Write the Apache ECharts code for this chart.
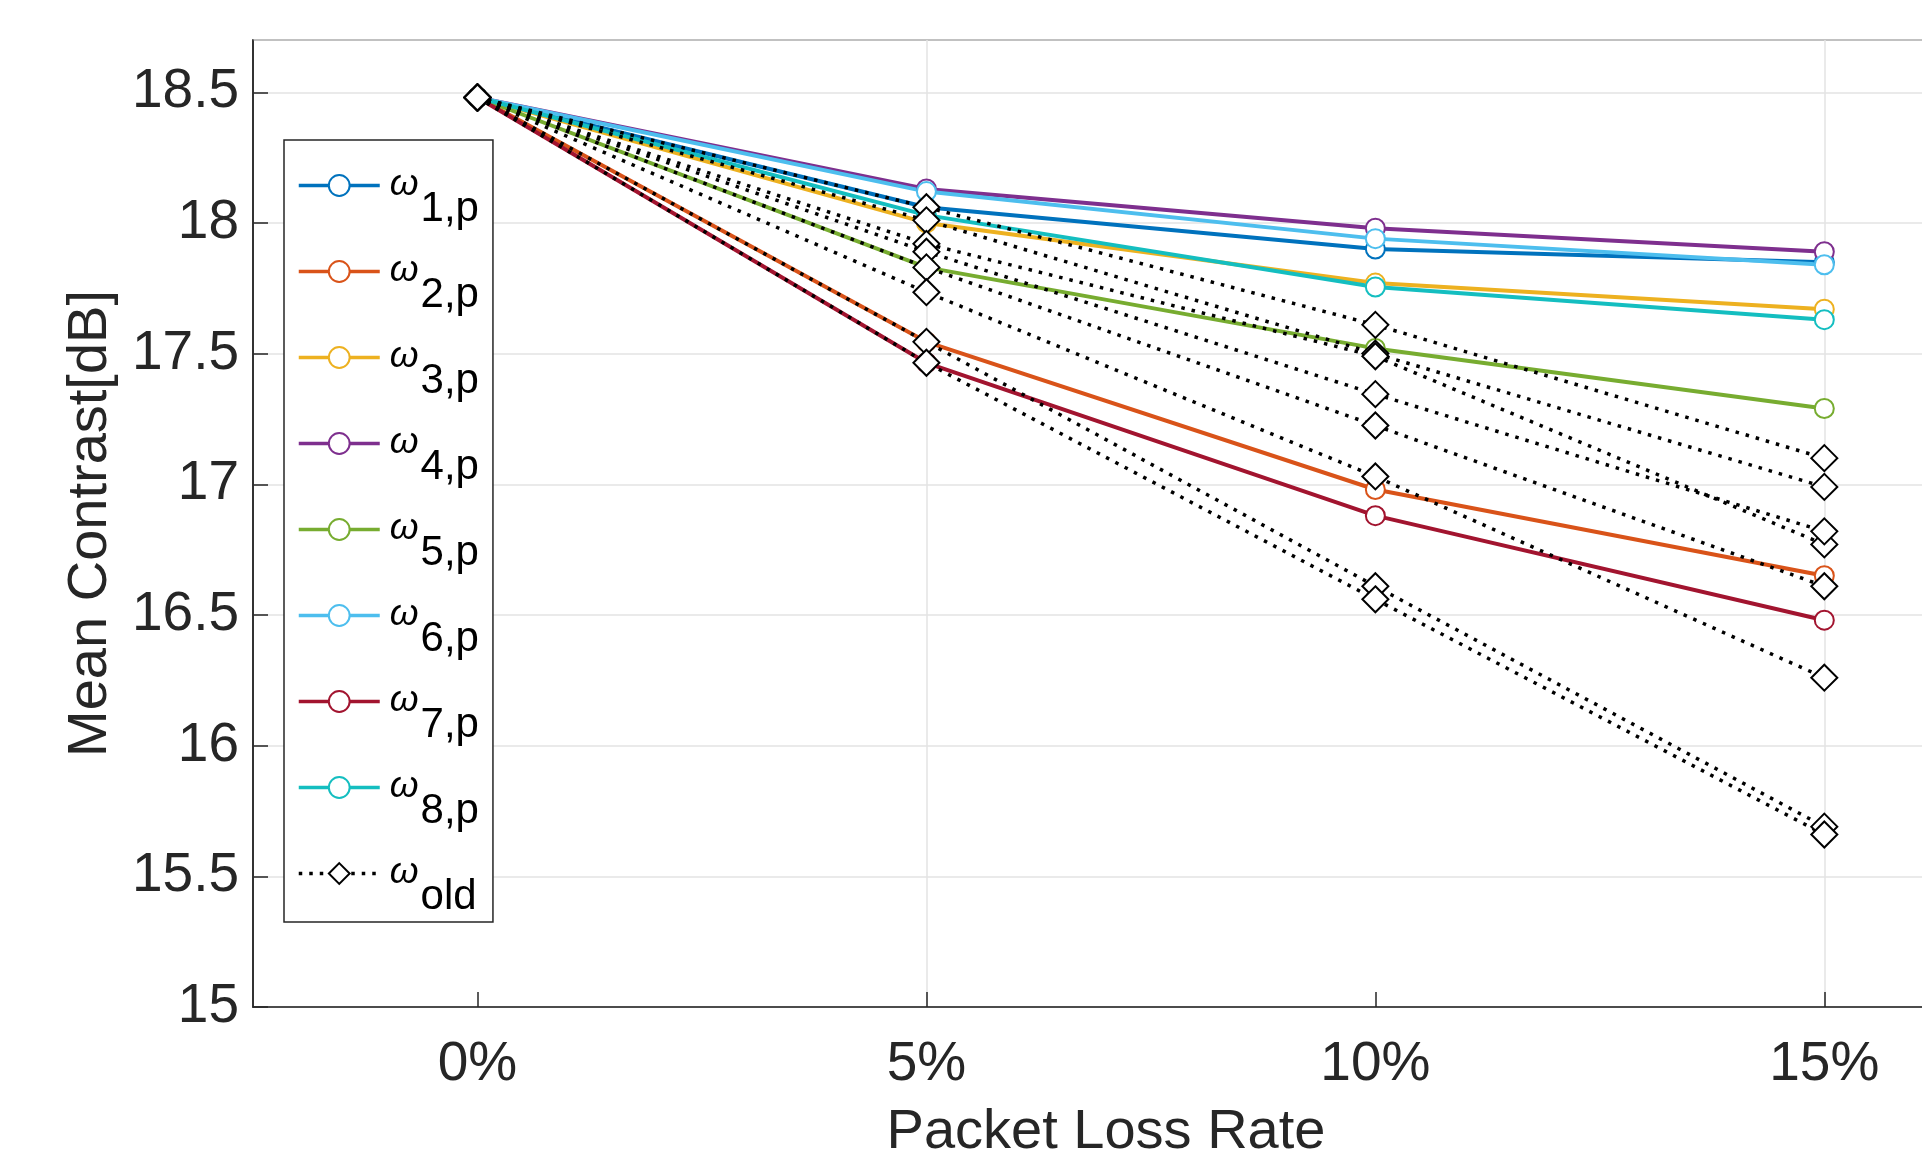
<!DOCTYPE html>
<html>
<head>
<meta charset="utf-8">
<title>Mean Contrast vs Packet Loss Rate</title>
<script src="https://cdn.jsdelivr.net/npm/echarts@6.0.0/dist/echarts.min.js"></script>
<style>
  html, body { margin: 0; padding: 0; background: #fff; }
  #chart { width: 1922px; height: 1151px; }
</style>
</head>
<body>
<div id="chart"></div>
<script>
// packet loss rate (%)
const rates = [0, 5, 10, 15];

// proposed weights
const w1p = [18.48, 18.06, 17.90, 17.85];
const w2p = [18.48, 17.545, 16.98, 16.65];
const w3p = [18.48, 18.00, 17.77, 17.67];
const w4p = [18.48, 18.13, 17.98, 17.89];
const w5p = [18.48, 17.83, 17.52, 17.29];
const w6p = [18.48, 18.12, 17.94, 17.84];
const w7p = [18.48, 17.465, 16.88, 16.48];
const w8p = [18.48, 18.03, 17.755, 17.63];

// old weights (all drawn as one legend entry)
const old1 = [18.48, 18.06, 17.61, 17.10];
const old2 = [18.48, 18.01, 17.50, 16.99];
const old3 = [18.48, 17.92, 17.49, 16.77];
const old4 = [18.48, 17.89, 17.345, 16.82];
const old5 = [18.48, 17.83, 17.225, 16.61];
const old6 = [18.48, 17.735, 17.03, 16.26];
const old7 = [18.48, 17.545, 16.61, 15.69];
const old8 = [18.48, 17.465, 16.56, 15.66];

const pNames = ['1,p', '2,p', '3,p', '4,p', '5,p', '6,p', '7,p', '8,p'];
const pValues = [w1p, w2p, w3p, w4p, w5p, w6p, w7p, w8p];
const pColors = ['#0072BD', '#D95319', '#EDB120', '#7E2F8E', '#77AC30', '#4DBEEE', '#A2142F', '#14BEC0'];
const oldValues = [old1, old2, old3, old4, old5, old6, old7, old8];

const xTicks = [0, 5, 10, 15];
const axisColor = '#262626';
const gridColor = '#e3e3e3';
const font = '"Liberation Sans", Arial, Helvetica, sans-serif';

function toPoints(vals) {
  return vals.map((v, i) => [rates[i], v]);
}

const series = [];

pValues.forEach((vals, i) => {
  series.push({
    name: pNames[i],
    type: 'line',
    data: toPoints(vals),
    symbol: 'emptyCircle',
    symbolSize: 19,
    color: pColors[i],
    lineStyle: { width: 4, color: pColors[i] },
    itemStyle: { color: pColors[i], borderWidth: 3 },
    emphasis: { disabled: true },
    animation: false
  });
});

oldValues.forEach(vals => {
  series.push({
    name: 'old',
    type: 'line',
    data: toPoints(vals),
    symbol: 'emptyDiamond',
    symbolSize: 26,
    color: '#000',
    lineStyle: { width: 3.5, color: '#000', type: [3.5, 7] },
    itemStyle: { color: '#000', borderWidth: 3 },
    emphasis: { disabled: true },
    animation: false
  });
});

const myChart = echarts.init(document.getElementById('chart'));

const option = {
  backgroundColor: '#fff',
  animation: false,
  grid: {
    left: 253,
    top: 40,
    width: 1706,
    height: 967,
    containLabel: false,
    outerBoundsMode: 'none',
    show: true,
    borderColor: axisColor,
    borderWidth: 1.5,
    backgroundColor: 'transparent'
  },
  legend: {
    orient: 'vertical',
    left: 284,
    top: 140,
    data: [...pNames, 'old'],
    itemWidth: 81,
    itemHeight: 26,
    itemGap: 2,
    padding: [6, 14, 4, 13],
    backgroundColor: '#fff',
    borderColor: axisColor,
    borderWidth: 1.5,
    borderRadius: 0,
    selectedMode: false,
    lineStyle: { width: 3.5 },
    formatter: name => '{w|ω}{s|' + name + '}',
    textStyle: {
      color: '#000',
      rich: {
        w: {
          fontFamily: font,
          fontStyle: 'italic',
          fontSize: 37,
          color: '#000',
          verticalAlign: 'top',
          padding: [20, 0, 0, 5]
        },
        s: {
          fontFamily: font,
          fontSize: 42,
          color: '#000',
          verticalAlign: 'top',
          lineHeight: 79,
          padding: [42, 0, 0, 2]
        }
      }
    }
  },
  xAxis: {
    type: 'value',
    min: -2.5,
    max: 16.5,
    interval: 2.5,
    name: 'Packet Loss Rate',
    nameLocation: 'middle',
    nameGap: 98,
    nameTextStyle: { fontFamily: font, fontSize: 56, color: axisColor },
    axisLine: { show: true, onZero: false, lineStyle: { color: axisColor, width: 1.5 } },
    axisTick: {
      show: true,
      inside: true,
      length: 15,
      customValues: xTicks,
      lineStyle: { color: axisColor, width: 1.5 }
    },
    axisLabel: {
      margin: 30,
      customValues: xTicks,
      fontFamily: font,
      fontSize: 55,
      color: axisColor,
      formatter: v => (v % 5 === 0 && v >= 0 && v <= 15 ? v + '%' : '')
    },
    splitLine: {
      show: true,
      showMinLine: true,
      lineStyle: { color: ['rgba(0,0,0,0)', gridColor], width: 1.5 }
    }
  },
  yAxis: {
    type: 'value',
    min: 15,
    max: 18.7,
    interval: 0.5,
    name: 'Mean Contrast[dB]',
    nameLocation: 'middle',
    nameGap: 134,
    nameTextStyle: { fontFamily: font, fontSize: 56, color: axisColor },
    axisLine: { show: true, onZero: false, lineStyle: { color: axisColor, width: 1.5 } },
    axisTick: {
      show: true,
      inside: true,
      length: 15,
      lineStyle: { color: axisColor, width: 1.5 }
    },
    axisLabel: {
      margin: 14,
      showMaxLabel: false,
      fontFamily: font,
      fontSize: 55,
      color: axisColor,
      formatter: v => (Math.abs(v - 18.7) < 1e-6 ? '' : String(v))
    },
    splitLine: {
      show: true,
      lineStyle: { color: gridColor, width: 1.5 }
    }
  },
  series: series
};

myChart.setOption(option);
</script>
</body>
</html>
